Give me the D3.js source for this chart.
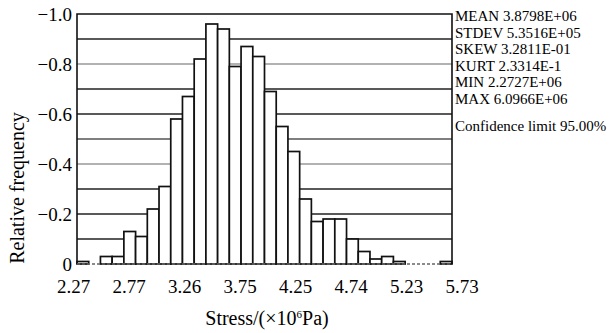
<!DOCTYPE html>
<html>
<head>
<meta charset="utf-8">
<script src="https://cdn.jsdelivr.net/npm/d3@7"></script>
<style>
  body { margin: 0; background: #fff; }
  text { font-family: "Liberation Serif", "DejaVu Serif", serif; fill: #000; }
</style>
</head>
<body>
<script>

// histogram bins, 32 classes between min and max stress
const binStart = 2.27;
const binEnd = 5.73;
const freq = [0.01, 0, 0.03, 0.03, 0.13, 0.11, 0.22, 0.31, 0.58, 0.67, 0.82, 0.96,
              0.94, 0.79, 0.87, 0.83, 0.69, 0.55, 0.45, 0.26, 0.17, 0.18, 0.18, 0.10,
              0.05, 0.02, 0.03, 0.01, 0, 0, 0, 0.01];

const xTickLabels = ['2.27', '2.77', '3.26', '3.75', '4.25', '4.74', '5.23', '5.73'];
const yTicks = [0, 0.2, 0.4, 0.6, 0.8, 1.0];
const yTickLabels = ['0', '\u22120.2', '\u22120.4', '\u22120.6', '\u22120.8', '\u22121.0'];
const gridVals = [0.1, 0.2, 0.3, 0.4, 0.5, 0.6, 0.7, 0.8, 0.9];
const gridShade = ['#222', '#222', '#222', '#999', '#555', '#222', '#222', '#999', '#222'];

const stats = ['MEAN 3.8798E+06', 'STDEV 5.3516E+05', 'SKEW 3.2811E-01',
               'KURT 2.3314E-1', 'MIN 2.2727E+06', 'MAX 6.0966E+06'];
const confText = 'Confidence limit 95.00%';

const W = 609, H = 333;
const mLeft = 77, mRight = 452, mTop = 14, mBottom = 264;

const svg = d3.select('body').append('svg')
    .attr('width', W)
    .attr('height', H);

const x = d3.scaleLinear().domain([binStart, binEnd]).range([mLeft, mRight]);
const y = d3.scaleLinear().domain([0, 1]).range([mBottom, mTop]);
const bw = (binEnd - binStart) / freq.length;

// tick labels are spaced a bit wider than the plot box in the original
const xLab = d3.scalePoint().domain(xTickLabels).range([73.5, 462]);

// grid
svg.selectAll('line.grid')
    .data(gridVals)
    .join('line')
    .attr('class', 'grid')
    .attr('x1', mLeft).attr('x2', mRight)
    .attr('y1', d => y(d)).attr('y2', d => y(d))
    .attr('stroke', (d, i) => gridShade[i])
    .attr('stroke-width', 1.4);

// bars
svg.selectAll('rect.bar')
    .data(freq)
    .join('rect')
    .attr('class', 'bar')
    .attr('x', (d, i) => x(binStart + i * bw))
    .attr('width', x(binStart + bw) - x(binStart))
    .attr('y', d => y(d))
    .attr('height', d => y(0) - y(d))
    .attr('fill', '#fff')
    .attr('stroke', '#111')
    .attr('stroke-width', d => d > 0 ? 1.7 : 0);

// frame
svg.append('path')
    .attr('d', `M${mLeft},${mBottom}V${mTop}H${mRight}V${mBottom}`)
    .attr('fill', 'none')
    .attr('stroke', '#111')
    .attr('stroke-width', 1.6);

svg.append('line')
    .attr('x1', mLeft).attr('x2', mRight)
    .attr('y1', mBottom).attr('y2', mBottom)
    .attr('stroke', '#666')
    .attr('stroke-width', 1.4)
    .attr('stroke-dasharray', '3,2');

// y tick labels
svg.selectAll('text.ytick')
    .data(yTicks)
    .join('text')
    .attr('class', 'ytick')
    .attr('x', 72)
    .attr('y', d => y(d))
    .attr('dy', '0.36em')
    .attr('text-anchor', 'end')
    .style('font-size', '19px')
    .text((d, i) => yTickLabels[i]);

// x tick labels
svg.selectAll('text.xtick')
    .data(xTickLabels)
    .join('text')
    .attr('class', 'xtick')
    .attr('x', d => xLab(d))
    .attr('y', 293)
    .attr('text-anchor', 'middle')
    .style('font-size', '19px')
    .text(d => d);

// axis titles
svg.append('text')
    .attr('transform', 'translate(24,188) rotate(-90)')
    .attr('text-anchor', 'middle')
    .style('font-size', '20px')
    .text('Relative frequency');

const xt = svg.append('text')
    .attr('x', 267)
    .attr('y', 325)
    .attr('text-anchor', 'middle')
    .style('font-size', '20px');
xt.append('tspan').text('Stress/(\u00d710');
xt.append('tspan').attr('dy', -7).style('font-size', '11px').text('6');
xt.append('tspan').attr('dy', 7).text('Pa)');

// statistics
svg.selectAll('text.stat')
    .data(stats)
    .join('text')
    .attr('class', 'stat')
    .attr('x', 455)
    .attr('y', (d, i) => 21 + i * 16.5)
    .style('font-size', '15px')
    .text(d => d);

svg.append('text')
    .attr('x', 455)
    .attr('y', 131)
    .style('font-size', '15px')
    .text(confText);

</script>
</body>
</html>
